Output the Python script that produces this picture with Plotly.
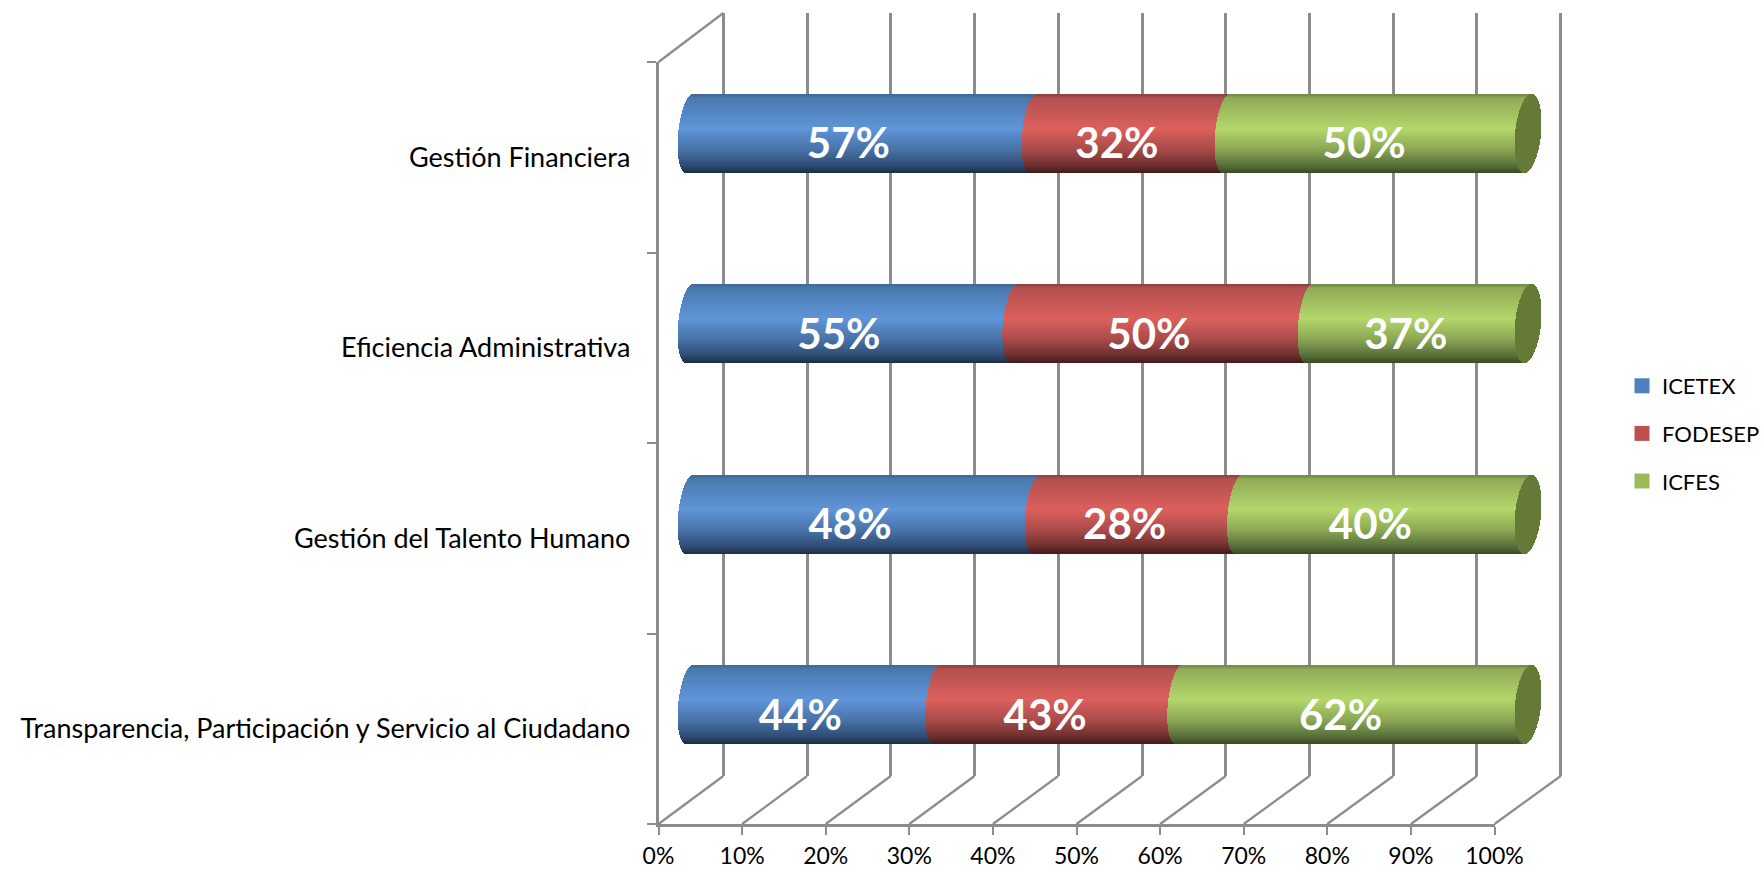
import math
import plotly.graph_objects as go

categories = ["Transparencia, Participación y Servicio al Ciudadano",
              "Gestión del Talento Humano",
              "Eficiencia Administrativa",
              "Gestión Financiera"]
icetex = [44, 48, 55, 57]
fodesep = [43, 28, 50, 32]
icfes = [62, 40, 37, 50]
series_names = ["ICETEX", "FODESEP", "ICFES"]
series_values = [icetex, fodesep, icfes]
axis_ticks = list(range(0, 101, 10))

W, H = 1762, 869
FONT = "Lato"
GRID = "#8c8c8c"
legend_colors = ["#4F81BD", "#C0504D", "#9BBB59"]
cap_color = "#667A37"
fstops = [0, .04, .43, .70, .90, 1]
ramps = [
    ["#3f6896", "#4a79af", "#5f95d9", "#4872a8", "#2f4d74", "#1c2c44"],
    ["#8c4241", "#b3504f", "#dc605c", "#a84b49", "#6d2f2e", "#421a1a"],
    ["#6f8a43", "#8fab57", "#b3d76c", "#8aa653", "#57703a", "#3b4a20"],
]


def rgb(h):
    return [int(h[i:i + 2], 16) for i in (1, 3, 5)]


def ramp(stops, f):
    for k in range(len(fstops) - 1):
        if f <= fstops[k + 1]:
            t = (f - fstops[k]) / (fstops[k + 1] - fstops[k])
            a, b = rgb(stops[k]), rgb(stops[k + 1])
            c = [round(a[n] + (b[n] - a[n]) * t) for n in range(3)]
            return f"rgb({c[0]},{c[1]},{c[2]})"
    return stops[-1]


def dx(x):
    return x / W


def dy(y):
    return 1 - y / H


# pixel geometry of the pseudo 3D frame
FX0, FX1, FY0, FY1 = 658.5, 1494.5, 62, 824      # front axes
BX0, BX1, BY0, BY1 = 723.3, 1560.7, 13, 776      # back wall
PX0, PX1 = 689.5, 1528                            # bar plane 0%..100%
PY0, PY1 = 38, 800                                # bar plane, y span of 4 categories
k = (PX1 - PX0) / 100
unit_y = (PY1 - PY0) / 4
BAR_PX = 78
h = BAR_PX / unit_y
N = BAR_PX
RX, RX_CAP, SHEAR = 11.3 / k, 13 / k, 3.6 / k
PLANE_L, PLANE_R = 640, 1580
back_k = (BX1 - BX0) / 100

fig = go.Figure()

# back wall carrier (first subplot, so that everything else sits above it)
fig.add_trace(go.Scatter(x=[0], y=[0], xaxis="x", yaxis="y", mode="markers",
                         marker=dict(opacity=0), showlegend=False, hoverinfo="skip"))

totals = [sum(v[i] for v in series_values) for i in range(len(categories))]
starts = [[0.0] * len(categories)]
for vals in series_values:
    starts.append([s + 100 * v / t for s, v, t in zip(starts[-1], vals, totals)])

bands = [(j + .5) / N * 2 - 1 for j in range(N)]
for si, name in enumerate(series_names):
    ys, bases, lens, cols = [], [], [], []
    for i in range(len(categories)):
        for v in bands:
            shift = SHEAR * v - RX * math.sqrt(1 - v * v)
            ys.append(i + v * h / 2)
            bases.append(starts[si][i] + shift)
            lens.append(starts[si + 1][i] - starts[si][i])
            cols.append(ramp(ramps[si], (1 - v) / 2))
    fig.add_trace(go.Bar(x=lens, y=ys, base=bases, width=[h / N * 1.25] * len(ys), orientation="h",
                         marker=dict(color=cols, line=dict(width=0)), xaxis="x2", yaxis="y2",
                         showlegend=False, hoverinfo="skip"))

# right end cap
ys, bases, lens = [], [], []
for i in range(len(categories)):
    for v in bands:
        s = math.sqrt(1 - v * v)
        ys.append(i + v * h / 2)
        bases.append(100 + SHEAR * v - RX_CAP * s)
        lens.append(2 * RX_CAP * s)
fig.add_trace(go.Bar(x=lens, y=ys, base=bases, width=[h / N * 1.25] * len(ys), orientation="h",
                     marker=dict(color=cap_color, line=dict(width=0)), xaxis="x2", yaxis="y2",
                     showlegend=False, hoverinfo="skip"))

# data labels
for si, name in enumerate(series_names):
    fig.add_trace(go.Scatter(
        x=[(starts[si][i] + starts[si + 1][i]) / 2 - 13 / k for i in range(len(categories))],
        y=[i - 14.5 / unit_y for i in range(len(categories))],
        text=[f"{v}%" for v in series_values[si]], mode="text", xaxis="x2", yaxis="y2",
        textposition="middle center", textfont=dict(family=FONT, size=42, color="white", weight="bold"),
        showlegend=False, hoverinfo="skip"))

# legend entries
for si, name in enumerate(series_names):
    fig.add_trace(go.Scatter(x=[None], y=[None], name=name, mode="markers", xaxis="x2", yaxis="y2",
                             legendgroup=name,
                             marker=dict(symbol="square", size=15, color=legend_colors[si])))

# front axes
fig.add_trace(go.Scatter(x=[0] * 4, y=categories, xaxis="x3", yaxis="y3", mode="markers",
                         marker=dict(opacity=0), showlegend=False, hoverinfo="skip"))

# floor and side-wall diagonals
shapes = []
for n in range(11):
    fx = FX0 + (FX1 - FX0) * n / 10
    bx = BX0 + (BX1 - BX0) * n / 10
    shapes.append(dict(type="line", xref="paper", yref="paper", x0=dx(fx), y0=dy(FY1), x1=dx(bx), y1=dy(BY1),
                       line=dict(color=GRID, width=2.2), layer="below"))
shapes.append(dict(type="line", xref="paper", yref="paper", x0=dx(FX0), y0=dy(FY0), x1=dx(BX0), y1=dy(BY0),
                   line=dict(color=GRID, width=2.2), layer="below"))

fig.update_layout(
    width=W, height=H, margin=dict(l=0, r=0, t=0, b=0, pad=0, autoexpand=False),
    paper_bgcolor="white", plot_bgcolor="rgba(0,0,0,0)", barmode="overlay", bargap=0,
    font=dict(family=FONT, size=24, color="#000000"), shapes=shapes,
    # the back wall runs a little past 0% and 100% so those two gridlines are drawn too
    xaxis=dict(domain=[dx(BX0 - 5 * back_k), dx(BX1 + 5 * back_k)], range=[-5, 105], tickvals=axis_ticks,
               showticklabels=False, ticks="", showgrid=True, gridcolor=GRID, gridwidth=3, zeroline=False,
               showline=False, anchor="y", fixedrange=True),
    yaxis=dict(domain=[dy(BY1), dy(BY0)], range=[0, 1], showticklabels=False, ticks="", showgrid=False,
               zeroline=False, showline=False, anchor="x", fixedrange=True),
    xaxis2=dict(domain=[dx(PLANE_L), dx(PLANE_R)], range=[(PLANE_L - PX0) / k, (PLANE_R - PX0) / k],
                visible=False, anchor="y2", fixedrange=True),
    yaxis2=dict(domain=[dy(PY1), dy(PY0)], range=[-.5, 3.5], visible=False, anchor="x2", fixedrange=True),
    xaxis3=dict(domain=[dx(FX0), dx(FX1)], range=[0, 100], tickvals=axis_ticks,
                ticktext=[f"{t}%" for t in axis_ticks], ticks="outside", ticklen=8, tickwidth=2,
                tickcolor=GRID, showline=True, linecolor=GRID, linewidth=2.5, showgrid=False, zeroline=False,
                anchor="y3", tickangle=0, fixedrange=True, ticklabelstandoff=2,
                tickfont=dict(family=FONT, size=23)),
    yaxis3=dict(domain=[dy(FY1), dy(FY0)], type="category", categoryorder="array", categoryarray=categories,
                range=[-.5, 3.5], tickson="boundaries", ticks="outside", ticklen=9, tickwidth=2, tickcolor=GRID,
                showline=True, linecolor=GRID, linewidth=2.5, showgrid=False, zeroline=False,
                anchor="x3", fixedrange=True, ticklabelstandoff=20,
                tickfont=dict(family=FONT, size=27)),
    legend=dict(x=dx(1622), y=dy(365), xanchor="left", yanchor="top", traceorder="grouped",
                tracegroupgap=16, font=dict(family=FONT, size=22), bgcolor="rgba(0,0,0,0)", itemwidth=30),
)

fig.write_html("out.html", config=dict(displayModeBar=False),
               post_script="document.body.style.margin='0';document.documentElement.style.overflow='hidden';")
